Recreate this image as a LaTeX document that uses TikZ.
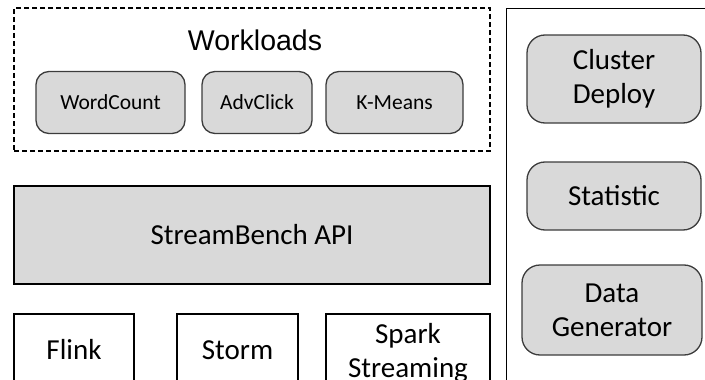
\documentclass[tikz,border=0pt]{standalone}
\usepackage{fontspec}
\setmainfont{Carlito}
\newfontfamily\arialfont{Liberation Sans}
\usetikzlibrary{positioning}
\definecolor{boxgray}{RGB}{217,217,217}
\definecolor{edgegray}{RGB}{60,60,60}

\tikzset{
  bigtext/.style={font=\fontsize{29}{34}\selectfont},
  smalltext/.style={font=\fontsize{21.5}{25}\selectfont},
  module/.style={draw=edgegray, line width=1.3pt, fill=boxgray, rounded corners=18pt, align=center, inner sep=0pt, bigtext},
  workbox/.style={module, rounded corners=13pt, minimum height=62pt, smalltext, text height=13.8pt, text depth=0pt},
  engine/.style={draw=black, line width=1.1pt, fill=white, align=center, inner sep=0pt, minimum height=72pt, bigtext},
  oneline/.style={text height=18.7pt, text depth=0pt},
}

\begin{document}
\begin{tikzpicture}[x=1pt,y=-1pt]
\useasboundingbox (0,0) rectangle (705,380);
\clip (0,0) rectangle (705,380);

% workloads
\node[draw=black, line width=1.1pt, dash pattern=on 5pt off 3pt, minimum width=476pt, minimum height=143pt, inner sep=0pt] (workloads) at (252,79.5) {};
\node[font=\arialfont\fontsize{28.5}{32}\selectfont, inner sep=0pt] (worktitle) at (255,40) {Workloads};
\node[workbox, minimum width=149pt] (wordcount) at (110.5,102.5) {WordCount};
\node[workbox, minimum width=110pt] (advclick) at (257,102.5) {AdvClick};
\node[workbox, minimum width=137pt] (kmeans) at (394.5,102.5) {K-Means};

% api layer
\node[draw=black, line width=1.1pt, fill=boxgray, minimum width=476pt, minimum height=98pt, inner sep=0pt, bigtext, oneline] (api) at (252,235) {StreamBench API};

% engines
\node[engine, oneline, minimum width=120pt] (flink) at (74,350) {Flink};
\node[engine, oneline, minimum width=121pt] (storm) at (237.5,350) {Storm};
\node[engine, minimum width=164pt, minimum height=78pt] (spark) at (408,353) {Spark\\Streaming};

% tools
\node[draw=black, line width=1.1pt, minimum width=230pt, minimum height=400pt, anchor=north west, inner sep=0pt] (tools) at (506,8) {};
\node[module, minimum width=174pt, minimum height=88pt] (cluster) at (614,79) {Cluster\\Deploy};
\node[module, oneline, minimum width=174pt, minimum height=68pt] (statistic) at (614,196) {Statistic};
\node[module, minimum width=180pt, minimum height=90pt] (datagen) at (612,310) {Data\\Generator};

\end{tikzpicture}
\end{document}
